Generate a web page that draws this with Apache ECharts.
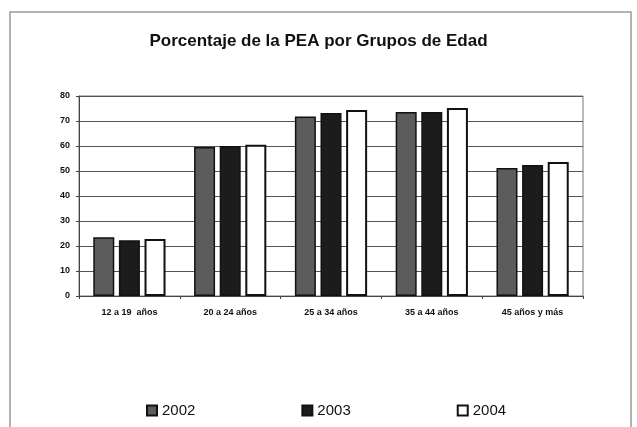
<!DOCTYPE html>
<html>
<head>
<meta charset="utf-8">
<script src="https://cdn.jsdelivr.net/npm/echarts@6/dist/echarts.min.js"></script>
<style>
  html, body { margin: 0; padding: 0; background: #fff; }
  #grafico { width: 637px; height: 427px; }
</style>
</head>
<body>
<div id="grafico"></div>
<script>
// datos
const grupos = ['12 a 19  años', '20 a 24 años', '25 a 34 años', '35 a 44 años', '45 años y más'];
const datos2002 = [23.5, 59.6, 71.8, 73.6, 51.2];
const datos2003 = [22.3, 60.0, 73.2, 73.6, 52.4];
const datos2004 = [22.8, 60.5, 74.4, 75.2, 53.6];

let myChart = echarts.init(document.getElementById('grafico'));
const option = {
  backgroundColor: '#fff',
  animation: false,
  title: {
    text: 'Porcentaje de la PEA por Grupos de Edad',
    left: 'center',
    top: 28,
    textStyle: { fontFamily: 'Arial', fontSize: 17, fontWeight: 'bold', color: '#111' }
  },
  graphic: [
    {
      type: 'rect',
      shape: { x: 10, y: 12, width: 621, height: 425 },
      style: { fill: 'none', stroke: '#9a9a9a', lineWidth: 1.5 }
    }
  ],
  legend: {
    bottom: 4,
    left: 141,
    itemGap: 106,
    itemWidth: 10,
    itemHeight: 10,
    icon: 'rect',
    textStyle: { fontFamily: 'Arial', fontSize: 15, color: '#111' },
    data: ['2002', '2003', '2004']
  },
  grid: { left: 79, right: 54, top: 96, bottom: 131, show: true, borderColor: '#777', borderWidth: 1 },
  xAxis: {
    type: 'category',
    data: grupos,
    axisLine: { lineStyle: { color: '#444', width: 1 } },
    axisTick: { show: true, length: 3, lineStyle: { color: '#444' } },
    axisLabel: { fontFamily: 'Arial', fontSize: 9, fontWeight: 'bold', color: '#111', margin: 12 }
  },
  yAxis: {
    type: 'value',
    min: 0,
    max: 80,
    interval: 10,
    axisLine: { show: true, lineStyle: { color: '#444' } },
    axisTick: { show: true, length: 3, lineStyle: { color: '#444' } },
    axisLabel: { fontFamily: 'Arial', fontSize: 9, fontWeight: 'bold', color: '#111', margin: 9 },
    splitLine: { lineStyle: { color: '#555', width: 1 } }
  },
  series: [
    {
      name: '2002',
      type: 'bar',
      data: datos2002,
      barWidth: 21,
      barGap: '22%',
      itemStyle: { color: '#5c5c5c', borderColor: '#111', borderWidth: 1.5 }
    },
    {
      name: '2003',
      type: 'bar',
      data: datos2003,
      barWidth: 21,
      barGap: '22%',
      itemStyle: { color: '#1c1c1c', borderColor: '#111', borderWidth: 1.5 }
    },
    {
      name: '2004',
      type: 'bar',
      data: datos2004,
      barWidth: 21,
      barGap: '22%',
      itemStyle: { color: '#ffffff', borderColor: '#111', borderWidth: 2 }
    }
  ]
};
myChart.setOption(option);
</script>
</body>
</html>
